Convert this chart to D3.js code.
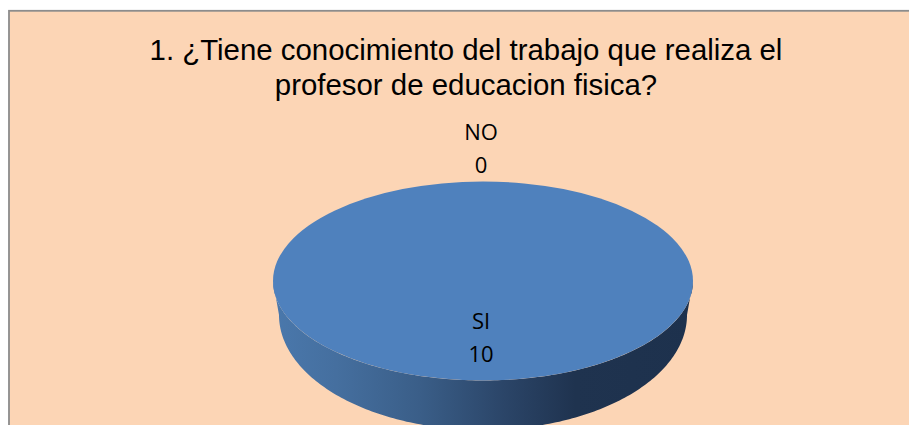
<!DOCTYPE html>
<html><head><meta charset="utf-8">
<script src="https://cdn.jsdelivr.net/npm/d3@7"></script>
<style>html,body{margin:0;padding:0;background:#fff}svg{display:block}</style>
</head><body><svg id="c" width="909" height="425"></svg>
<script>
const categories = ["SI", "NO"];
const values = [10, 0];
const titleLines = ["1. ¿Tiene conocimiento del trabajo que realiza el", "profesor de educacion fisica?"];

const W = 909, H = 425;
const cx = 483, cy = 281, rx = 210, ry = 99.5;
const baseCy = 315, baseRx = 204, baseRy = 115;
const svg = d3.select("#c");

svg.append("rect").attr("x", 9).attr("y", 10.8).attr("width", W).attr("height", H)
  .attr("fill", "#FCD5B5").attr("stroke", "#8c8c8c").attr("stroke-width", 1.8);

const defs = svg.append("defs");
const grad = defs.append("linearGradient").attr("id", "side")
  .attr("gradientUnits", "userSpaceOnUse").attr("x1", cx - rx).attr("x2", cx + rx).attr("y1", 0).attr("y2", 0);
[[0, "#4a78ac"], [0.15, "#456f9f"], [0.35, "#3a5e88"], [0.55, "#2b4568"], [0.72, "#1f334f"], [1, "#1d314d"]]
  .forEach(([o, c]) => grad.append("stop").attr("offset", o).attr("stop-color", c));

const pie = d3.pie().sort(null).value(d => d).startAngle(0).endAngle(2 * Math.PI);
const arcs = pie(values);
const arcGen = d3.arc().innerRadius(0).outerRadius(rx);

// side wall: front half of rim down to a slightly narrower base ellipse
const rim = d3.range(90, 270.5, 1).map(d => d * Math.PI / 180);
const area = d3.area()
  .x0(a => cx + rx * Math.sin(a))
  .y0(a => cy - ry * Math.cos(a))
  .x1(a => cx + baseRx * Math.sin(a))
  .y1(a => baseCy - baseRy * Math.cos(a));
svg.append("path").attr("d", area(rim)).attr("fill", "url(#side)");

svg.append("g").attr("transform", `translate(${cx},${cy}) scale(1,${ry / rx})`)
  .selectAll("path").data(arcs).join("path")
  .attr("d", arcGen).attr("fill", "#4F81BD");

svg.append("g").selectAll("text").data(titleLines).join("text")
  .attr("x", 466).attr("y", (d, i) => 60 + i * 35)
  .attr("text-anchor", "middle").attr("font-family", "Liberation Sans, Arial, sans-serif")
  .attr("font-size", 29.4).attr("fill", "#000").text(d => d);

const labelPos = { SI: [481, 329], NO: [481, 140] };
categories.forEach((c, i) => {
  const [x, y] = labelPos[c];
  const t = svg.append("g").attr("font-family", "Open Sans, sans-serif").attr("font-size", 22)
    .attr("text-anchor", "middle").attr("fill", "#000");
  t.append("text").attr("x", x).attr("y", y).text(c);
  t.append("text").attr("x", x).attr("y", y + 33).text(values[i]);
});
</script></body></html>
